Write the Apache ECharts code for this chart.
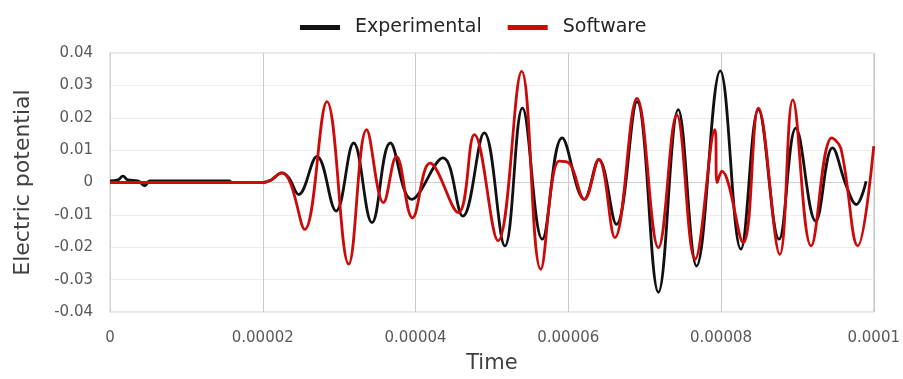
<!DOCTYPE html>
<html><head><meta charset="utf-8">
<script src="https://cdn.jsdelivr.net/npm/echarts@6/dist/echarts.min.js"></script>
<style>html,body{margin:0;padding:0;background:#fff}#c{width:903px;height:379px}</style>
</head><body><div id="c"></div>
<script>
// time in microseconds
var expTime = [0,1.04,1.69,2.34,3.65,4.56,5.21,15.6,15.9,20.05,21.1,22.5,23.4,24.7,27.1,29.6,31.9,34.3,36.7,39.5,43.6,46.2,49.0,51.7,54.0,56.6,59.2,62.1,64.0,66.3,69.0,71.8,74.4,76.8,79.9,82.6,84.9,87.6,89.8,92.4,94.6,96.4,97.7,99.0];
var expValue = [0.0005,0.0008,0.002,0.0008,0.0005,-0.001,0.0005,0.0005,0.0,0.0,0.0008,0.003,0.0015,-0.0037,0.0081,-0.0088,0.0122,-0.0124,0.0122,-0.0052,0.0076,-0.0104,0.0153,-0.0196,0.023,-0.0175,0.0138,-0.0052,0.0071,-0.0129,0.025,-0.0339,0.0225,-0.0258,0.0345,-0.0206,0.0225,-0.0175,0.0168,-0.0119,0.0107,-0.001,-0.0068,0.0004];
var swTime = [0,20.05,21.1,22.5,23.6,25.5,28.4,31.25,33.6,35.8,37.5,39.6,41.9,45.6,47.7,50.8,53.9,56.4,58.8,60.1,62.1,64.0,66.1,69.0,71.8,74.2,76.6,79.2,79.5,80.1,82.9,84.9,87.7,89.4,91.8,94.5,95.7,97.9,100];
var swValue = [0.0,0.0,0.0008,0.003,0.0,-0.0145,0.025,-0.0252,0.0163,-0.0062,0.0081,-0.0109,0.006,-0.0093,0.0148,-0.018,0.0343,-0.0268,0.0066,0.006,-0.0052,0.0071,-0.017,0.026,-0.0201,0.0209,-0.0237,0.0163,0.0,0.0035,-0.0186,0.023,-0.0222,0.0255,-0.0196,0.0138,0.0105,-0.0196,0.0112];
var xTickLabels = ['0','0.00002','0.00004','0.00006','0.00008','0.0001'];
var yTickLabels = ['-0.04','-0.03','-0.02','-0.01','0','0.01','0.02','0.03','0.04'];
var seriesNames = ['Experimental','Software'];

function pairs(t, v){ return t.map(function(x,i){ return [x*1e-6, v[i]]; }); }

var chart = echarts.init(document.getElementById('c'));
var font = 'DejaVu Sans';
chart.setOption({
  animation:false,
  backgroundColor:'#fff',
  legend:{
    top:13, left:295, itemGap:26, itemWidth:40, itemHeight:5, icon:'rect',
    textStyle:{fontFamily:font, fontSize:19, color:'#262626', padding:[0,0,0,10]},
    data:seriesNames
  },
  grid:{left:110, right:25, top:53, bottom:66, show:true, borderColor:'#d0d0d0', borderWidth:1},
  xAxis:{
    type:'value', min:0, max:0.0001, interval:0.00002,
    name:'Time', nameLocation:'middle', nameGap:41,
    nameTextStyle:{fontFamily:font, fontSize:21, color:'#404040'},
    axisLine:{show:true, lineStyle:{color:'#d0d0d0'}}, axisTick:{show:false},
    axisLabel:{fontFamily:font, fontSize:15, color:'#595959', margin:19,
      formatter:function(v){ return xTickLabels[Math.round(v/0.00002)]; }},
    splitLine:{show:true, lineStyle:{color:'#c8c8c8'}}
  },
  yAxis:{
    type:'value', min:-0.04, max:0.04, interval:0.01,
    name:'Electric potential', nameLocation:'middle', nameGap:76,
    nameTextStyle:{fontFamily:font, fontSize:22, color:'#404040'},
    axisLine:{show:true, lineStyle:{color:'#d0d0d0'}}, axisTick:{show:false},
    axisLabel:{fontFamily:font, fontSize:15, color:'#595959', margin:17,
      formatter:function(v){ return yTickLabels[Math.round(v/0.01)+4]; }},
    splitLine:{show:true, lineStyle:{color:'#ececec'}}
  },
  series:[
    {name:seriesNames[0], type:'line', data:pairs(expTime, expValue), showSymbol:false, smooth:0.4,
     lineStyle:{color:'#111', width:2.8}, itemStyle:{color:'#111'}, z:2},
    {name:seriesNames[1], type:'line', data:pairs(swTime, swValue), showSymbol:false, smooth:0.4,
     lineStyle:{color:'#cc0a0a', width:2.8}, itemStyle:{color:'#cc0a0a'}, z:3}
  ]
});
</script></body></html>
